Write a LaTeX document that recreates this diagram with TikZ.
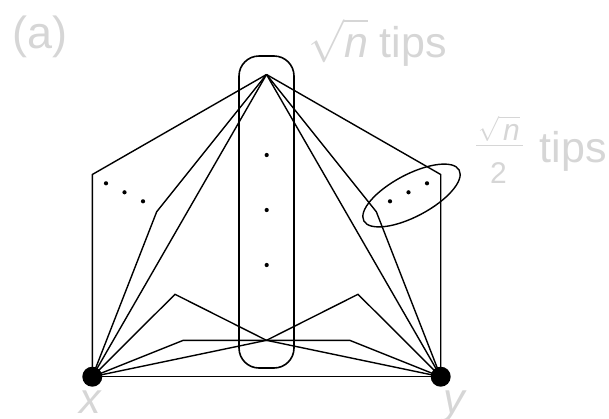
\RequirePackage{fix-cm}
\documentclass[tikz,border=0pt]{standalone}
\usepackage{amsmath}
\usepackage{fontspec}
\setmainfont{Liberation Sans}
\definecolor{lbl}{RGB}{214,214,214}
\newcommand{\sqn}{\sqrt{\vphantom{l}\textit{n}}}
\newcommand{\smallsqn}{{\fontsize{25}{29}\selectfont
  $\displaystyle\sqrt{\vphantom{l}\kern4pt\hbox{\fontsize{30}{36}\selectfont\itshape n}}$}}
\begin{document}
\begin{tikzpicture}[x=1pt,y=-1pt,
  edge/.style={line width=1.4pt, line join=miter},
  bigdot/.style={circle, fill=black, inner sep=0pt, minimum size=20pt},
  smalldot/.style={circle, fill=black, inner sep=0pt, minimum size=4.2pt},
  lbltext/.style={text=lbl, inner sep=0pt, font=\fontsize{43}{50}\selectfont}]
\useasboundingbox (0,0) rectangle (609,418);
% key points
\coordinate (top) at (266.5,74.5);
\coordinate (bot) at (266.5,340.3);
\coordinate (lv) at (92.3,174.5);
\coordinate (rv) at (440.7,174.5);
\coordinate (lk) at (156.7,211.7);
\coordinate (rk) at (376.3,211.7);
\coordinate (lm) at (175,294.3);
\coordinate (rm) at (358,294.3);
\coordinate (lh) at (183.3,340.3);
\coordinate (rh) at (349.7,340.3);
\coordinate (ec) at (411.5,195.5);
% tips box
\node[draw, line width=1.6pt, rounded corners=20pt, minimum width=55pt,
      minimum height=312pt, inner sep=0pt] (tipsbox) at (266.5,212) {};
% ellipse
\draw[edge, rotate around={28:(ec)}] (ec) ellipse [x radius=54pt, y radius=21pt];
% end points
\node[bigdot] (x) at (92.3,376.7) {};
\node[bigdot] (y) at (440.7,376.7) {};
% paths
\draw[edge] (x.center) -- (lv) -- (top);
\draw[edge] (x.center) -- (lk) -- (top);
\draw[edge] (x.center) -- (top);
\draw[edge] (y.center) -- (rv) -- (top);
\draw[edge] (y.center) -- (rk) -- (top);
\draw[edge] (y.center) -- (top);
\draw[edge] (x.center) -- (lm) -- (bot) -- (y.center);
\draw[edge] (y.center) -- (rm) -- (bot) -- (x.center);
\draw[edge] (x.center) -- (lh) -- (rh) -- (y.center);
\draw[edge] (x.center) -- (y.center);
% dots
\node[smalldot] (d1) at (266.7,155) {};
\node[smalldot] (d2) at (266.7,210) {};
\node[smalldot] (d3) at (266.7,265) {};
\node[smalldot] (l1) at (106,183.3) {};
\node[smalldot] (l2) at (124.5,192.3) {};
\node[smalldot] (l3) at (143,201.3) {};
\node[smalldot] (r1) at (390,201.3) {};
\node[smalldot] (r2) at (408.5,192.3) {};
\node[smalldot] (r3) at (427,183.3) {};
% labels
\node[lbltext, font=\fontsize{45}{54}\selectfont, anchor=base west] (lab) at (12,48) {(a)};
\node[lbltext, anchor=base west] (sq) at (308,57.7) {$\sqn$ tips};
% half fraction label
\node[lbltext, anchor=base west] (hnum) at (478,140.3) {\smallsqn};
\coordinate (barl) at (476,145.3);
\coordinate (barr) at (522.7,145.3);
\draw[lbl, line width=1.4pt] (barl) -- (barr);
\node[lbltext, font=\fontsize{30}{36}\selectfont, anchor=base] (hden) at (498.5,183.7) {2};
\node[lbltext, anchor=base west] (htips) at (539.5,162) {tips};
\node[lbltext, anchor=base] (xl) at (91,413) {\textit{x}};
\node[lbltext, anchor=base] (yl) at (455.5,413) {\textit{y}};
\end{tikzpicture}
\end{document}
